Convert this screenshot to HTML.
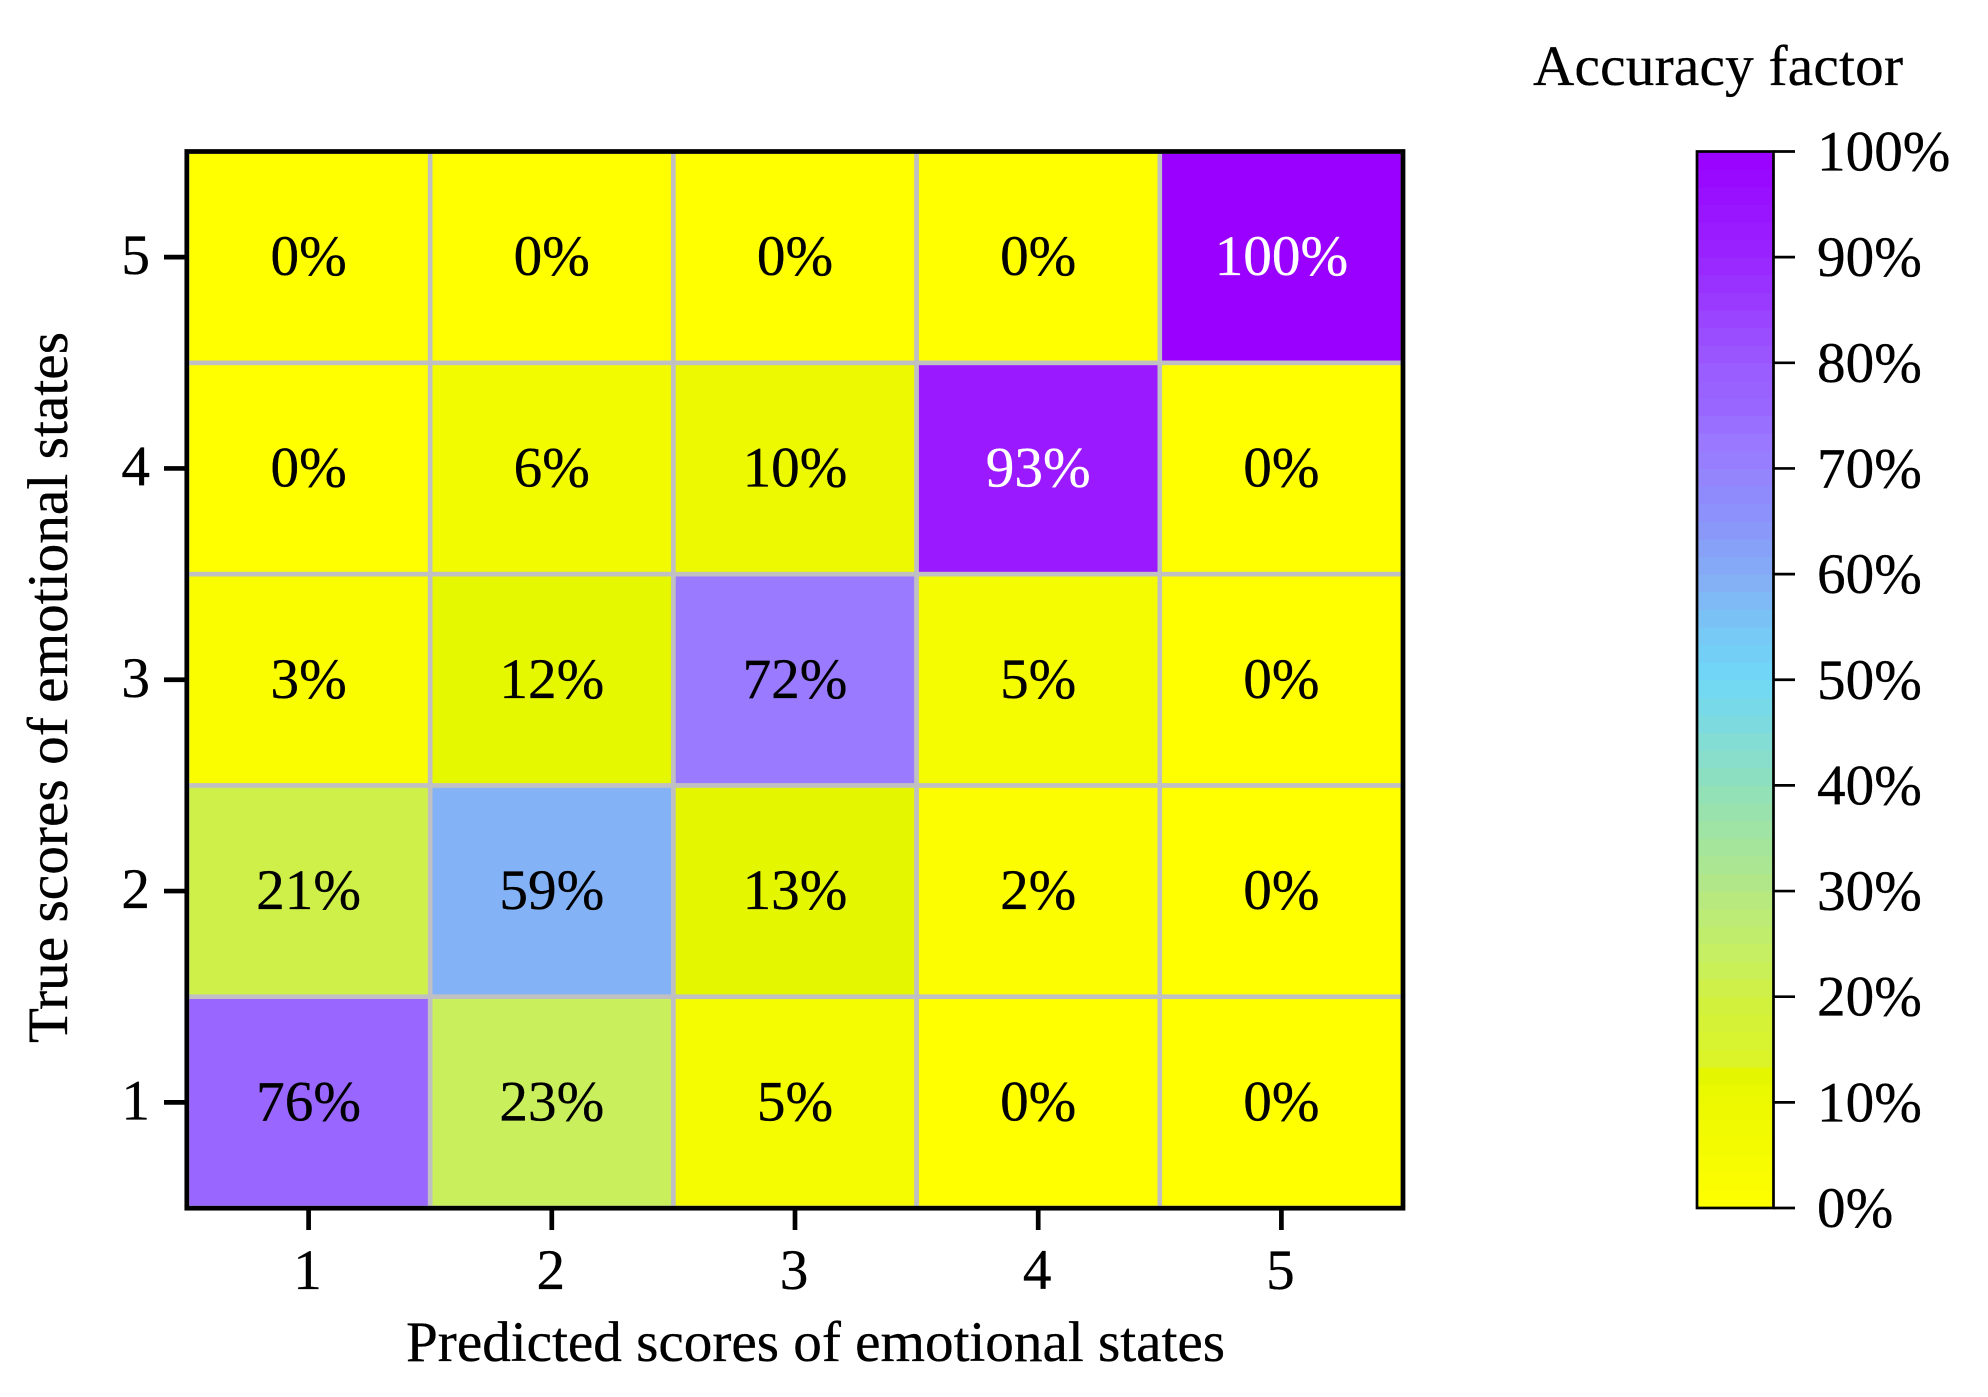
<!DOCTYPE html>
<html lang="en">
<head>
<meta charset="utf-8">
<title>Confusion matrix of emotional state scores</title>
<style>
  html, body { margin: 0; padding: 0; background: #fff; }
  svg { display: block; }
  text { font-family: "Liberation Serif", "Times New Roman", serif; font-size: 57.2px; fill: #000; stroke: #000; stroke-width: 0.3px; }
</style>
</head>
<body>
<svg id="chart" xmlns="http://www.w3.org/2000/svg" width="1988" height="1397" viewBox="0 0 1988 1397">
  <rect x="0" y="0" width="1988" height="1397" fill="#ffffff"/>
  <g id="cells"></g>
  <g id="cell-labels"></g>
  <rect x="186.8" y="151.5" width="1216.2" height="1056.7" fill="none" stroke="#000" stroke-width="4.7"/>
  <g id="x-axis"></g>
  <g id="y-axis"></g>
  <text x="406" y="1361" textLength="819">Predicted scores of emotional states</text>
  <text transform="translate(67 1043) rotate(-90)" textLength="711">True scores of emotional states</text>
  <text x="1533" y="85" textLength="370">Accuracy factor</text>
  <g id="colorbar"></g>
</svg>
<script>
const xCategories = [1, 2, 3, 4, 5];
const yCategories = [1, 2, 3, 4, 5];
const matrixTrue1 = [76, 23, 5, 0, 0];
const matrixTrue2 = [21, 59, 13, 2, 0];
const matrixTrue3 = [3, 12, 72, 5, 0];
const matrixTrue4 = [0, 6, 10, 93, 0];
const matrixTrue5 = [0, 0, 0, 0, 100];
const matrixRows = [matrixTrue1, matrixTrue2, matrixTrue3, matrixTrue4, matrixTrue5];
const colorbarTicks = [0, 10, 20, 30, 40, 50, 60, 70, 80, 90, 100];
const colorStopValues = [0, 5, 10, 13.2, 14, 20, 23, 30, 40, 50, 55, 59, 65, 72, 76, 80, 90, 100];
const colorStopColors = ['#ffff00', '#f5fb00', '#ecf900', '#e3f700', '#dbf428', '#d0f040', '#c9f05c', '#b4e884', '#90e0bc', '#70d8f8', '#78c6f6', '#84b2f6', '#8a94fa', '#9a7aff', '#9966ff', '#9a5aff', '#9a24ff', '#9900ff'];

const NS = 'http://www.w3.org/2000/svg';
const plot = { left: 187, right: 1403, top: 151.5, bottom: 1208 };
const bar = { left: 1697, right: 1773.5, top: 151.5, bottom: 1208 };
const colorbarBands = 60;

const bandW = (plot.right - plot.left) / xCategories.length;
const bandH = (plot.bottom - plot.top) / yCategories.length;
function xLeft(i) { return plot.left + i * bandW; }
function xCenter(i) { return xLeft(i) + bandW / 2; }
function yTop(i) { return plot.bottom - (i + 1) * bandH; }
function yCenter(i) { return yTop(i) + bandH / 2; }
function barY(v) { return bar.bottom - (v / 100) * (bar.bottom - bar.top); }

function hexToRgb(h) {
  return [parseInt(h.slice(1, 3), 16), parseInt(h.slice(3, 5), 16), parseInt(h.slice(5, 7), 16)];
}
function colorFor(v) {
  let k = 0;
  while (k < colorStopValues.length - 2 && v > colorStopValues[k + 1]) k++;
  const t = (v - colorStopValues[k]) / (colorStopValues[k + 1] - colorStopValues[k]);
  const a = hexToRgb(colorStopColors[k]);
  const b = hexToRgb(colorStopColors[k + 1]);
  const c = a.map((x, n) => Math.round(x + (b[n] - x) * Math.min(1, Math.max(0, t))));
  return 'rgb(' + c.join(',') + ')';
}
function make(tag, parent, attrs) {
  const el = document.createElementNS(NS, tag);
  Object.keys(attrs).forEach(function (k) { el.setAttribute(k, attrs[k]); });
  parent.appendChild(el);
  return el;
}

const cellsG = document.getElementById('cells');
const labelsG = document.getElementById('cell-labels');
const xAxisG = document.getElementById('x-axis');
const yAxisG = document.getElementById('y-axis');
const barG = document.getElementById('colorbar');

matrixRows.forEach(function (row, r) {
  row.forEach(function (value, c) {
    const cell = make('rect', cellsG, {
      x: xLeft(c), y: yTop(r), width: bandW, height: bandH,
      fill: colorFor(value), stroke: '#c0c0c2', 'stroke-width': 4.6
    });
    
    
    const label = make('text', labelsG, {
      x: xCenter(c), y: yCenter(r) + 18, 'text-anchor': 'middle'
    });
    label.style.fill = value >= 90 ? '#ffffff' : '#000000';
    label.style.stroke = value >= 90 ? '#ffffff' : '#000000';
    label.textContent = value + '%';
    
    
  });
});

xCategories.forEach(function (cat, i) {
  const tick = make('line', xAxisG, {
    x1: xCenter(i), x2: xCenter(i), y1: plot.bottom + 2, y2: plot.bottom + 22,
    stroke: '#000', 'stroke-width': 4.7
  });
  
  
  const label = make('text', xAxisG, { x: xCenter(i) - 1, y: 1289, 'text-anchor': 'middle' });
  label.textContent = cat;
  
  
});

yCategories.forEach(function (cat, i) {
  const tick = make('line', yAxisG, {
    x1: plot.left - 2, x2: plot.left - 23, y1: yCenter(i), y2: yCenter(i),
    stroke: '#000', 'stroke-width': 4.7
  });
  
  
  const label = make('text', yAxisG, { x: 150, y: yCenter(i) + 17, 'text-anchor': 'end' });
  label.textContent = cat;
  
  
});

for (let b = 0; b < colorbarBands; b++) {
  const lo = b * 100 / colorbarBands;
  const hi = (b + 1) * 100 / colorbarBands;
  const band = make('rect', barG, {
    x: bar.left, y: barY(hi), width: bar.right - bar.left,
    height: barY(lo) - barY(hi) + 0.5, fill: colorFor((lo + hi) / 2)
  });
  
  
}
const barFrame = make('rect', barG, {
  x: bar.left, y: bar.top, width: bar.right - bar.left, height: bar.bottom - bar.top,
  fill: 'none', stroke: '#000', 'stroke-width': 2.7
});



colorbarTicks.forEach(function (v) {
  const tick = make('line', barG, {
    x1: bar.right, x2: 1795, y1: barY(v), y2: barY(v), stroke: '#000', 'stroke-width': 2.7
  });
  
  
  const label = make('text', barG, { x: 1817, y: barY(v) + 19 });
  label.textContent = v + '%';
  
  
});
</script>
</body>
</html>
